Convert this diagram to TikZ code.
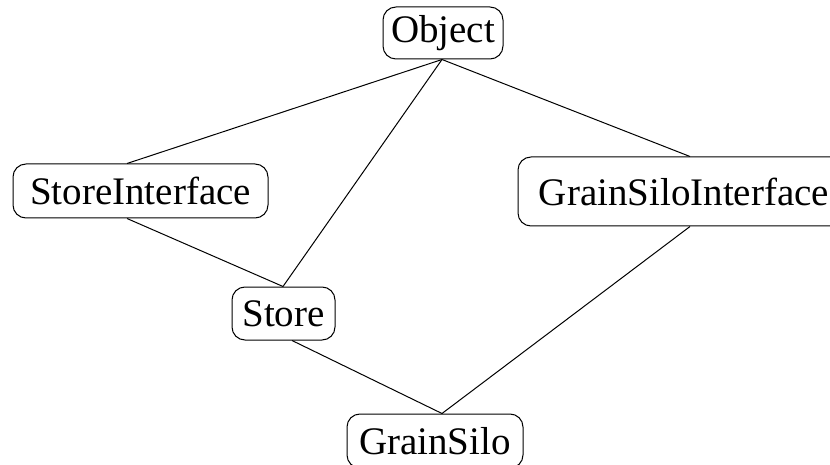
\documentclass[tikz,border=0pt]{standalone}
\usepackage{fontspec}
\setmainfont{Liberation Serif}
\begin{document}
\begin{tikzpicture}[x=1pt,y=-1pt,
  cls/.style={draw, line width=1pt, rounded corners=13pt, inner sep=0pt,
    font=\fontsize{39}{47}\selectfont},
  link/.style={line width=1pt}]
\useasboundingbox (0,0) rectangle (830,465);
\clip (0,0) rectangle (830,465);

% class boxes
\node[cls, minimum width=120pt, minimum height=52pt] (obj)   at (443,33)    {Object};
\node[cls, minimum width=255pt, minimum height=54pt] (sint)  at (140.5,191) {StoreInterface};
\node[cls, minimum width=332pt, minimum height=69pt] (gsint) at (684,191.5) {GrainSiloInterface};
\node[cls, minimum width=103pt, minimum height=53pt] (store) at (283.5,313.5) {Store};
\node[cls, minimum width=176pt, minimum height=54pt] (silo)  at (435,441)   {GrainSilo};

% inheritance links
\draw[link] ([xshift=-1pt]obj.south) -- ([xshift=-13.5pt]sint.north);
\draw[link] ([xshift=-1pt]obj.south) -- ([xshift=-0.5pt]store.north);
\draw[link] ([xshift=-1pt]obj.south) -- ([xshift=6pt]gsint.north);
\draw[link] ([xshift=-13.5pt]sint.south) -- ([xshift=-0.5pt]store.north);
\draw[link] ([xshift=8.5pt]store.south) -- ([xshift=7pt]silo.north);
\draw[link] ([xshift=6pt]gsint.south) -- ([xshift=7pt]silo.north);
\end{tikzpicture}
\end{document}
